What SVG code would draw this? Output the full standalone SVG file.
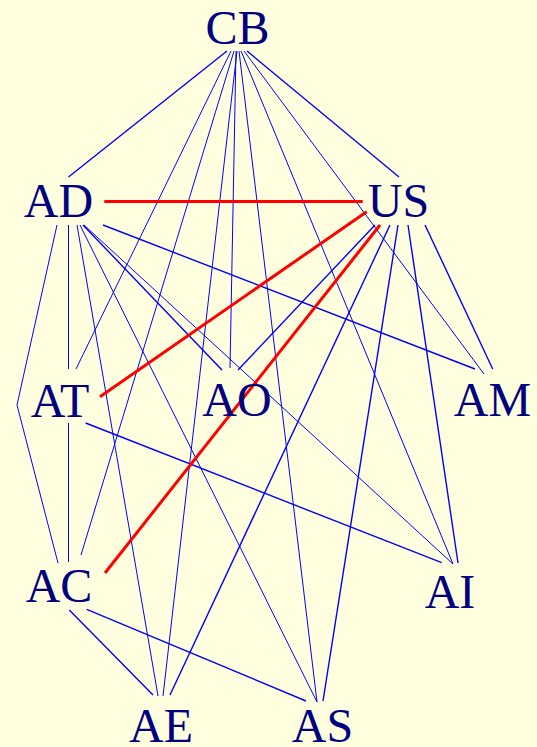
<svg xmlns="http://www.w3.org/2000/svg" width="537" height="747" viewBox="0 0 537 747">
<style>
.lbl{font-family:"Liberation Serif","Times New Roman",serif;font-size:48px;fill:#000080;text-anchor:middle}
.e{stroke:#0000FF;stroke-width:1.4;fill:none}
.t{stroke:#0000FF;stroke-width:1;fill:none}
.r{stroke:#FF0000;stroke-width:3;fill:none}
</style>
<rect x="0" y="0" width="537" height="747" fill="#FFFFE0"/>
<g id="edges">
<line class="e" x1="227" y1="51" x2="68.5" y2="177"/>
<line class="e" x1="247" y1="51" x2="399" y2="177"/>
<line class="t" x1="231" y1="51" x2="76" y2="369"/>
<line class="t" x1="234" y1="51" x2="81" y2="555"/>
<line class="t" x1="237" y1="51" x2="163" y2="696"/>
<line class="t" x1="236" y1="51" x2="230" y2="368"/>
<line class="t" x1="239" y1="51" x2="317" y2="702"/>
<line class="t" x1="241" y1="51" x2="453" y2="564"/>
<line class="t" x1="244" y1="51" x2="484" y2="374"/>
<polyline class="t" points="57,225 17,405 58,563"/>
<line class="t" x1="68.5" y1="225" x2="68.5" y2="369"/>
<line class="t" x1="77" y1="225" x2="158" y2="696"/>
<line class="t" x1="80" y1="225" x2="317" y2="702"/>
<line class="e" x1="83" y1="225" x2="222" y2="370"/>
<line class="t" x1="84" y1="225" x2="453" y2="564"/>
<line class="e" x1="103" y1="225" x2="475" y2="369"/>
<line class="e" x1="375" y1="225" x2="238" y2="370"/>
<line class="e" x1="390" y1="225" x2="170" y2="695"/>
<line class="e" x1="398" y1="225" x2="323" y2="701"/>
<line class="e" x1="408" y1="225" x2="458" y2="563"/>
<line class="e" x1="425" y1="225" x2="492.7" y2="369"/>
<line class="t" x1="68.5" y1="423" x2="68.5" y2="562"/>
<line class="e" x1="85.6" y1="423" x2="441.7" y2="562.7"/>
<line class="e" x1="69.3" y1="610" x2="153" y2="695"/>
<line class="e" x1="86.7" y1="609.3" x2="306" y2="701"/>
<line class="r" x1="104.3" y1="201.5" x2="362.7" y2="201.5"/>
<line class="r" x1="366.7" y1="211.7" x2="100" y2="396.7"/>
<line class="r" x1="380" y1="225" x2="105" y2="573"/>
</g>
<g id="CB"><text class="lbl" x="237.5" y="44">CB</text></g>
<g id="AD"><text class="lbl" x="58.5" y="217">AD</text></g>
<g id="US"><text class="lbl" x="398.5" y="217">US</text></g>
<g id="AT"><text class="lbl" x="60" y="417">AT</text></g>
<g id="AO"><text class="lbl" x="237" y="416">AO</text></g>
<g id="AM"><text class="lbl" x="492.5" y="416">AM</text></g>
<g id="AC"><text class="lbl" x="59" y="602">AC</text></g>
<g id="AI"><text class="lbl" x="450" y="608">AI</text></g>
<g id="AE"><text class="lbl" x="161" y="742">AE</text></g>
<g id="AS"><text class="lbl" x="322.5" y="742">AS</text></g>
</svg>
